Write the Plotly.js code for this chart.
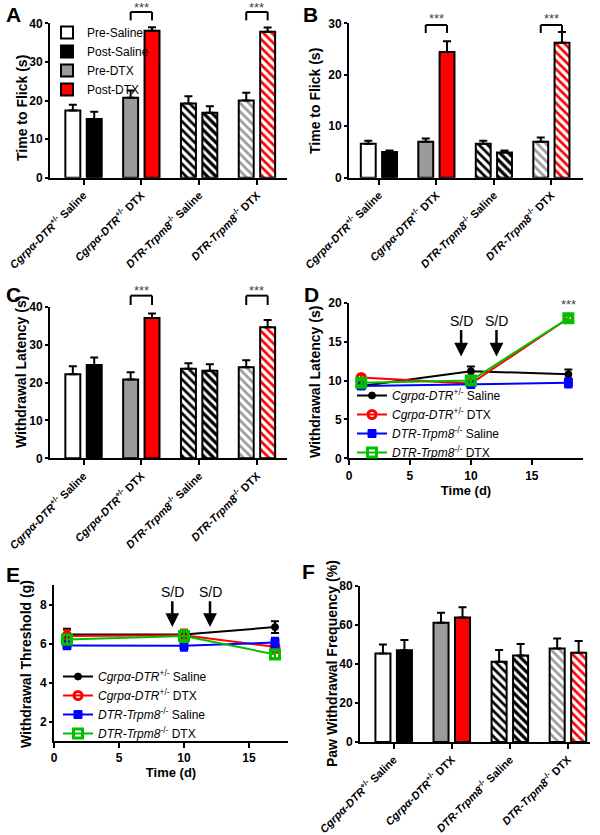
<!DOCTYPE html>
<html><head><meta charset="utf-8">
<script src="https://cdn.plot.ly/plotly-3.0.1.min.js"></script>
<style>html,body{margin:0;padding:0;background:#fff}#chart{width:600px;height:835px}</style>
</head><body><div id="chart"></div>
<script>
// ---------- DATA ----------
const categories = [
  '<i>Cgrpα-DTR</i><sup>+/-</sup> Saline',
  '<i>Cgrpα-DTR</i><sup>+/-</sup> DTX',
  '<i>DTR-Trpm8</i><sup>-/-</sup> Saline',
  '<i>DTR-Trpm8</i><sup>-/-</sup> DTX'
];
const seriesNames = ['Pre-Saline', 'Post-Saline', 'Pre-DTX', 'Post-DTX'];

// Panel A: tail flick (s)
const flickA_pre     = [17.4, 20.7, 19.2, 20.0];
const flickA_preErr  = [1.5, 1.9, 1.9, 2.0];
const flickA_post    = [15.2, 38.1, 16.8, 37.8];
const flickA_postErr = [1.9, 0.9, 1.7, 1.1];
// Panel B: tail flick (s)
const flickB_pre     = [6.6, 7.0, 6.6, 7.0];
const flickB_preErr  = [0.6, 0.6, 0.6, 0.8];
const flickB_post    = [5.0, 24.4, 4.9, 26.2];
const flickB_postErr = [0.3, 2.1, 0.4, 2.1];
// Panel C: withdrawal latency (s)
const latC_pre     = [22.2, 20.8, 23.6, 24.0];
const latC_preErr  = [2.1, 1.9, 1.5, 1.9];
const latC_post    = [24.6, 37.0, 23.1, 34.6];
const latC_postErr = [2.0, 1.2, 1.7, 1.9];
// Panel F: paw withdrawal frequency (%)
const freqF_pre     = [45.4, 61.2, 41.2, 48.0];
const freqF_preErr  = [4.6, 5.1, 6.0, 5.1];
const freqF_post    = [47.0, 63.8, 44.3, 45.8];
const freqF_postErr = [5.3, 5.3, 6.0, 6.0];

// Panel D: withdrawal latency time course
const lineNames = [
  '<i>Cgrpα-DTR</i><sup>+/-</sup> Saline',
  '<i>Cgrpα-DTR</i><sup>+/-</sup> DTX',
  '<i>DTR-Trpm8</i><sup>-/-</sup> Saline',
  '<i>DTR-Trpm8</i><sup>-/-</sup> DTX'
];
const timeD = [1, 10, 18];
const latD_cgrpSaline = [9.3, 11.2, 10.8];
const latD_cgrpSalineErr = [0.4, 0.6, 0.6];
const latD_cgrpDTX = [10.4, 9.6, 18.0];
const latD_cgrpDTXErr = [0.3, 0.3, 0.3];
const latD_trpSaline = [9.3, 9.5, 9.7];
const latD_trpSalineErr = [0.3, 0.2, 0.6];
const latD_trpDTX = [9.7, 10.0, 18.0];
const latD_trpDTXErr = [0.3, 0.4, 0.3];
const arrowDaysD = [9.2, 12.1];

// Panel E: withdrawal threshold time course
const timeE = [1, 10, 17];
const thrE_cgrpSaline = [6.46, 6.46, 6.84];
const thrE_cgrpSalineErr = [0.3, 0.2, 0.3];
const thrE_cgrpDTX = [6.38, 6.42, 5.83];
const thrE_cgrpDTXErr = [0.3, 0.3, 0.3];
const thrE_trpSaline = [5.9, 5.88, 6.05];
const thrE_trpSalineErr = [0.2, 0.25, 0.25];
const thrE_trpDTX = [6.2, 6.38, 5.44];
const thrE_trpDTXErr = [0.25, 0.3, 0.2];
const arrowDaysE = [9.1, 12.0];

// ---------- STYLE ----------
const FONT = 'Liberation Sans, Arial, sans-serif';
const W = 600, H = 835;
const BARGAP = 0.26, BARGROUPGAP = 0.3;
const slotHalf = (1 - BARGAP) / 4;
const barStyles = [
  {color: '#ffffff', bg: '#ffffff', fg: '#000000'},
  {color: '#000000', bg: '#000000', fg: '#ffffff'},
  {color: '#9b9b9b', bg: '#ffffff', fg: '#9b9b9b'},
  {color: '#ff0000', bg: '#ffffff', fg: '#ff0000'}
];
const lineStyles = [
  {color: '#000000', symbol: 'circle', size: 7, lw: 1},
  {color: '#ff0000', symbol: 'circle-open', size: 8, lw: 3},
  {color: '#0000ff', symbol: 'square', size: 8, lw: 1},
  {color: '#00c000', symbol: 'square-open', size: 9, lw: 3}
];

function dom(a, b, total) { return [a / total, b / total]; }
function ydom(top, bottom) { return [1 - bottom / H, 1 - top / H]; }

const traces = [];
function addBars(pre, preErr, post, postErr, xa, ya, showLegend) {
  const groupCats = [[0, 2], [1, 3]];
  for (let s = 0; s < 4; s++) {
    const isPost = s % 2 === 1;
    const cats = groupCats[s < 2 ? 0 : 1];
    const src = isPost ? post : pre;
    const srcErr = isPost ? postErr : preErr;
    const st = barStyles[s];
    traces.push({
      type: 'bar', name: seriesNames[s], xaxis: xa, yaxis: ya,
      x: cats.map(i => categories[i]),
      y: cats.map(i => src[i]),
      offsetgroup: isPost ? 'post' : 'pre',
      showlegend: showLegend, legend: 'legend',
      marker: {
        color: st.color,
        line: {color: '#000', width: 2},
        pattern: {shape: ['', '\\'], bgcolor: st.bg, fgcolor: st.fg, size: 6, solidity: 0.45}
      },
      error_y: {type: 'data', symmetric: false, array: cats.map(i => srcErr[i]),
        arrayminus: cats.map(() => 0), color: '#000', thickness: 2, width: 4},
      hoverinfo: 'skip'
    });
  }
}
addBars(flickA_pre, flickA_preErr, flickA_post, flickA_postErr, 'x', 'y', true);
addBars(flickB_pre, flickB_preErr, flickB_post, flickB_postErr, 'x2', 'y2', false);
addBars(latC_pre, latC_preErr, latC_post, latC_postErr, 'x3', 'y3', false);
addBars(freqF_pre, freqF_preErr, freqF_post, freqF_postErr, 'x6', 'y6', false);

function addLines(t, series, errs, xa, ya, legendId) {
  series.forEach((ys, k) => {
    const st = lineStyles[k];
    traces.push({
      type: 'scatter', mode: 'lines+markers', name: lineNames[k],
      x: t, y: ys, xaxis: xa, yaxis: ya, legend: legendId,
      line: {color: st.color, width: 2},
      marker: {color: st.color, symbol: st.symbol, size: st.size, line: {color: st.color, width: st.lw}},
      error_y: {type: 'data', array: errs[k], color: st.color, thickness: 2, width: 4},
      cliponaxis: false, hoverinfo: 'skip'
    });
  });
}
addLines(timeD, [latD_cgrpSaline, latD_cgrpDTX, latD_trpSaline, latD_trpDTX],
  [latD_cgrpSalineErr, latD_cgrpDTXErr, latD_trpSalineErr, latD_trpDTXErr], 'x4', 'y4', 'legend2');
addLines(timeE, [thrE_cgrpSaline, thrE_cgrpDTX, thrE_trpSaline, thrE_trpDTX],
  [thrE_cgrpSalineErr, thrE_cgrpDTXErr, thrE_trpSalineErr, thrE_trpDTXErr], 'x5', 'y5', 'legend3');

// ---------- AXES ----------
const tickFont = {family: FONT, size: 12, color: '#000', weight: 'bold'};
const catTickFont = {family: FONT, size: 11, color: '#000', weight: 'bold'};
const titleFont = {family: FONT, size: 14, color: '#000', weight: 'bold'};
function baseAxis(extra) {
  return Object.assign({showline: true, linecolor: '#000', linewidth: 2, ticks: 'outside',
    ticklen: 5, tickwidth: 2, tickcolor: '#000', showgrid: false, zeroline: false,
    tickfont: tickFont, fixedrange: true}, extra);
}
function catAxis(d, anchor, range) {
  return baseAxis({domain: d, anchor: anchor, type: 'category', categoryorder: 'array',
    categoryarray: categories, range: range, tickangle: -45, tickfont: catTickFont});
}
function valAxis(d, anchor, range, dtick) {
  return baseAxis({domain: d, anchor: anchor, range: range, dtick: dtick, ticklen: 3});
}

const layout = {
  width: W, height: H, margin: {l: 0, r: 0, t: 0, b: 0},
  paper_bgcolor: '#fff', plot_bgcolor: 'rgba(0,0,0,0)',
  barmode: 'group', bargap: BARGAP, bargroupgap: BARGROUPGAP,
  font: {family: FONT, color: '#000'},
  xaxis:  catAxis(dom(50, 287, W), 'y', [-0.58, 3.52]),
  yaxis:  valAxis(ydom(23.3, 177.7), 'x', [0, 40], 10),
  xaxis2: catAxis(dom(349, 583, W), 'y2', [-0.52, 3.55]),
  yaxis2: valAxis(ydom(23.3, 177.7), 'x2', [0, 30], 10),
  xaxis3: catAxis(dom(50, 287, W), 'y3', [-0.58, 3.52]),
  yaxis3: valAxis(ydom(306.7, 458.3), 'x3', [0, 40], 10),
  xaxis4: baseAxis({domain: dom(349, 583, W), anchor: 'y4', range: [0, 19.2], dtick: 5,
    title: {text: 'Time (d)', font: {family: FONT, size: 13, color: '#000', weight: 'bold'}, standoff: 2}}),
  yaxis4: valAxis(ydom(302.7, 458.3), 'x4', [0, 20], 5),
  xaxis5: baseAxis({domain: dom(54, 288, W), anchor: 'y5', range: [0, 18], dtick: 5,
    title: {text: 'Time (d)', font: {family: FONT, size: 13, color: '#000', weight: 'bold'}, standoff: 2}}),
  yaxis5: valAxis(ydom(585, 741), 'x5', [1, 9], 2),
  xaxis6: catAxis(dom(360, 590, W), 'y6', [-0.58, 3.38]),
  yaxis6: valAxis(ydom(586, 742), 'x6', [0, 80], 20),
  legend: {x: 47 / W, y: 1 - 18 / H, xanchor: 'left', yanchor: 'top', bgcolor: 'rgba(0,0,0,0)',
    font: {family: FONT, size: 12, color: '#000'}, traceorder: 'normal'},
  legend2: {x: 352 / W, y: 1 - 381 / H, xanchor: 'left', yanchor: 'top', bgcolor: 'rgba(0,0,0,0)',
    font: {family: FONT, size: 12, color: '#000'}, traceorder: 'normal'},
  legend3: {x: 58 / W, y: 1 - 662 / H, xanchor: 'left', yanchor: 'top', bgcolor: 'rgba(0,0,0,0)',
    font: {family: FONT, size: 12, color: '#000'}, traceorder: 'normal'},
  shapes: [], annotations: []
};

// y-axis titles (rotated annotations placed beside each axis)
[['Time to Flick (s)', 22, 108], ['Time to Flick (s)', 315, 101],
 ['Withdrawal Latency (s)', 21, 372], ['Withdrawal Latency (s)', 315, 382],
 ['Withdrawal Threshold (g)', 26, 664], ['Paw Withdrawal Frequency (%)', 332, 664]].forEach(([t, x, y]) => {
  layout.annotations.push({text: t, xref: 'paper', yref: 'paper', x: x / W, y: 1 - y / H,
    xanchor: 'center', yanchor: 'middle', textangle: -90, showarrow: false, font: titleFont});
});

// panel letters
[['A', 4, 1], ['B', 301, 1], ['C', 4, 281], ['D', 302, 281], ['E', 4, 561], ['F', 300, 558]].forEach(([t, x, y]) => {
  layout.annotations.push({text: t, xref: 'paper', yref: 'paper', x: x / W, y: 1 - y / H,
    xanchor: 'left', yanchor: 'top', showarrow: false,
    font: {family: FONT, size: 21, color: '#000', weight: 'bold'}});
});

// significance brackets
function bracket(xa, ya, catIdx, top, legBottom, starY) {
  const yd = ya + ' domain';
  const x0 = catIdx - slotHalf, x1 = catIdx + slotHalf;
  const ln = {color: '#000', width: 2};
  layout.shapes.push({type: 'line', xref: xa, yref: yd, x0: x0, x1: x1, y0: top, y1: top, line: ln});
  layout.shapes.push({type: 'line', xref: xa, yref: yd, x0: x0, x1: x0, y0: top, y1: legBottom, line: ln});
  layout.shapes.push({type: 'line', xref: xa, yref: yd, x0: x1, x1: x1, y0: top, y1: legBottom, line: ln});
  layout.annotations.push({text: '***', xref: xa, yref: yd, x: catIdx, y: starY, showarrow: false,
    yanchor: 'middle', font: {family: FONT, size: 13, color: '#444'}});
}
[1, 3].forEach(i => {
  bracket('x', 'y', i, 1.073, 1.019, 1.105);
  bracket('x2', 'y2', i, 0.989, 0.937, 1.03);
  bracket('x3', 'y3', i, 1.073, 1.011, 1.105);
});

// S/D arrows
function sdArrow(xa, ya, day, tip, textY) {
  layout.annotations.push({text: 'S/D', xref: xa, yref: ya, x: day, y: tip, axref: xa, ayref: ya,
    ax: day, ay: textY, showarrow: true, arrowhead: 2, arrowsize: 1.1, arrowwidth: 2.5,
    arrowcolor: '#000', standoff: 0, startstandoff: 0,
    font: {family: FONT, size: 14, color: '#000'}});
}
arrowDaysD.forEach(d => sdArrow('x4', 'y4', d, 13.1, 17.7));
arrowDaysE.forEach(d => sdArrow('x5', 'y5', d, 6.85, 8.65));
layout.annotations.push({text: '***', xref: 'x4', yref: 'y4', x: timeD[2], y: 19.8, showarrow: false,
  font: {family: FONT, size: 13, color: '#444'}});

Plotly.newPlot('chart', traces, layout, {staticPlot: true});
</script>
</body></html>
